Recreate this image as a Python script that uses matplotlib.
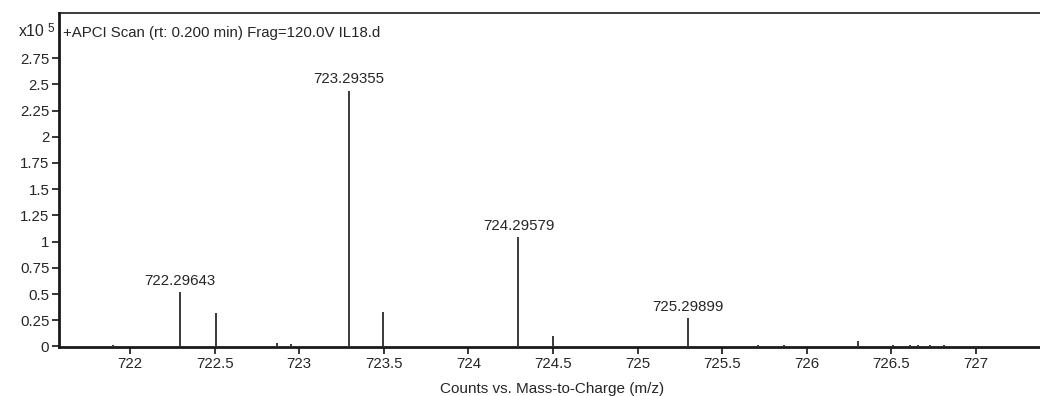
import matplotlib
matplotlib.use("Agg")
import matplotlib.pyplot as plt
from matplotlib.ticker import FixedLocator

plt.rcParams['font.family'] = ['Liberation Sans', 'DejaVu Sans']

# Centroided spectrum: m/z and abundance (x10^5 counts)
mz = [721.90, 722.29643, 722.508, 722.867, 722.952, 723.29355, 723.497,
      724.29579, 724.502, 725.29899, 725.713, 725.865, 726.301,
      726.511, 726.61, 726.66, 726.73, 726.81]
counts = [0.012, 0.516, 0.316, 0.035, 0.022, 2.44, 0.326,
          1.046, 0.103, 0.27, 0.012, 0.012, 0.055,
          0.012, 0.012, 0.012, 0.012, 0.012]

# Peaks that carry an m/z annotation
labeled_mz = [722.29643, 723.29355, 724.29579, 725.29899]
labeled_counts = [0.516, 2.44, 1.046, 0.27]

xticks = [722, 722.5, 723, 723.5, 724, 724.5, 725, 725.5, 726, 726.5, 727]
xtick_labels = ['722', '722.5', '723', '723.5', '724', '724.5', '725',
                '725.5', '726', '726.5', '727']
yticks = [0, 0.25, 0.5, 0.75, 1, 1.25, 1.5, 1.75, 2, 2.25, 2.5, 2.75]
ytick_labels = ['0', '0.25', '0.5', '0.75', '1', '1.25', '1.5', '1.75',
                '2', '2.25', '2.5', '2.75']

W, H = 1040, 396
fig = plt.figure(figsize=(W / 100, H / 100), dpi=100)
ax = fig.add_axes([59 / W, 1 - 347 / H, (1043 - 59) / W, (347 - 13) / H])

ax.vlines(mz, 0, counts, color='#2a2a2a', lw=1.3)
for m, c in zip(labeled_mz, labeled_counts):
    ax.annotate(f'{m:.5f}', (m, c), xytext=(0, 3), textcoords='offset points',
                ha='center', va='bottom', fontsize=10.8, color='#262626')

ax.set_xlim(721.58, 727.396)
ax.set_ylim(-0.005, 3.18)
ax.xaxis.set_major_locator(FixedLocator(xticks))
ax.set_xticklabels(xtick_labels)
ax.yaxis.set_major_locator(FixedLocator(yticks))
ax.set_yticklabels(ytick_labels)
ax.tick_params(axis='both', direction='out', length=5, width=1.3,
               labelsize=10.8, colors='#262626', pad=2)

for side in ['left', 'bottom']:
    ax.spines[side].set_linewidth(2)
    ax.spines[side].set_color('#1a1a1a')
for side in ['top', 'right']:
    ax.spines[side].set_linewidth(1.2)
    ax.spines[side].set_color('#1a1a1a')

ax.text(0.004, 0.96, '+APCI Scan (rt: 0.200 min) Frag=120.0V IL18.d',
        transform=ax.transAxes, ha='left', va='top', fontsize=10.8,
        color='#262626')
ax.set_xlabel('Counts vs. Mass-to-Charge (m/z)', fontsize=11,
              color='#262626', labelpad=1)
ax.xaxis.set_label_coords((552 - 59) / (1043 - 59), -0.105)

fig.text(45 / W, 1 - 32 / H, 'x10', ha='right', va='center', fontsize=11.5,
         color='#262626')
fig.text(47 / W, 1 - 29 / H, '5', ha='left', va='center', fontsize=8.5,
         color='#262626')

fig.savefig('out.png', dpi=100, facecolor='white')
